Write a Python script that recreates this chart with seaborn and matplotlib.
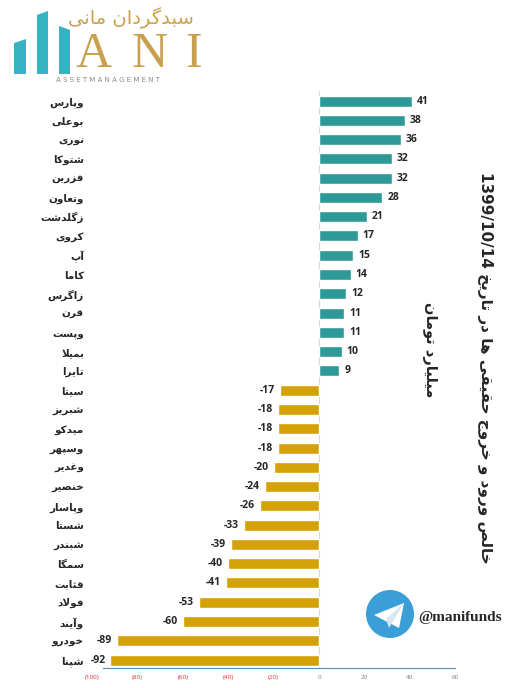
import numpy as np
import pandas as pd
import matplotlib
matplotlib.use("Agg")
import matplotlib.pyplot as plt
import seaborn as sns
from matplotlib.patches import Polygon, Circle

# data
names = ["وپارس", "بوعلی", "نوری", "شتوکا", "فزرین", "وتعاون", "زگلدشت", "کروی", "آپ", "کاما",
         "زاگرس", "قرن", "وپست", "بمیلا", "تایرا",
         "سیتا", "شبریز", "میدکو", "وسپهر", "وغدیر", "خنصیر", "وپاسار", "شستا", "شبندر", "سمگا",
         "قثابت", "فولاد", "وآیند", "خودرو", "شپنا"]
values = [41, 38, 36, 32, 32, 28, 21, 17, 15, 14, 12, 11, 11, 10, 9,
          -17, -18, -18, -18, -20, -24, -26, -33, -39, -40, -41, -53, -60, -89, -92]
xticks = [-100, -80, -60, -40, -20, 0, 20, 40, 60]
title = "خالص ورود و خروج حقیقی ها در تاریخ 1399/10/14"
subtitle = "میلیارد تومان"

TEAL = "#2E9A97"
GOLD = "#D4A106"

# --- simple arabic/persian shaping (no reshaper lib available) ---
FORMS = {
    "ا": (0xFE8D, 0xFE8E, None, None), "آ": (0xFE81, 0xFE82, None, None),
    "ب": (0xFE8F, 0xFE90, 0xFE91, 0xFE92), "پ": (0xFB56, 0xFB57, 0xFB58, 0xFB59),
    "ت": (0xFE95, 0xFE96, 0xFE97, 0xFE98), "ث": (0xFE99, 0xFE9A, 0xFE9B, 0xFE9C),
    "ج": (0xFE9D, 0xFE9E, 0xFE9F, 0xFEA0), "ح": (0xFEA1, 0xFEA2, 0xFEA3, 0xFEA4),
    "خ": (0xFEA5, 0xFEA6, 0xFEA7, 0xFEA8), "د": (0xFEA9, 0xFEAA, None, None),
    "ر": (0xFEAD, 0xFEAE, None, None), "ز": (0xFEAF, 0xFEB0, None, None),
    "س": (0xFEB1, 0xFEB2, 0xFEB3, 0xFEB4), "ش": (0xFEB5, 0xFEB6, 0xFEB7, 0xFEB8),
    "ص": (0xFEB9, 0xFEBA, 0xFEBB, 0xFEBC), "ع": (0xFEC9, 0xFECA, 0xFECB, 0xFECC),
    "غ": (0xFECD, 0xFECE, 0xFECF, 0xFED0), "ف": (0xFED1, 0xFED2, 0xFED3, 0xFED4),
    "ق": (0xFED5, 0xFED6, 0xFED7, 0xFED8), "ک": (0xFB8E, 0xFB8F, 0xFB90, 0xFB91),
    "گ": (0xFB92, 0xFB93, 0xFB94, 0xFB95), "ل": (0xFEDD, 0xFEDE, 0xFEDF, 0xFEE0),
    "م": (0xFEE1, 0xFEE2, 0xFEE3, 0xFEE4), "ن": (0xFEE5, 0xFEE6, 0xFEE7, 0xFEE8),
    "ه": (0xFEE9, 0xFEEA, 0xFEEB, 0xFEEC), "و": (0xFEED, 0xFEEE, None, None),
    "ی": (0xFBFC, 0xFBFD, 0xFBFE, 0xFBFF),
}


def shape(s):
    out = []
    i = 0
    while i < len(s):
        c = s[i]
        if c not in FORMS:
            out.append(c)
            i += 1
            continue
        prev = s[i - 1] if i > 0 else ""
        join_prev = prev in FORMS and FORMS[prev][2] is not None
        if c == "ل" and i + 1 < len(s) and s[i + 1] in "اآ":
            lig = (0xFEFB, 0xFEFC) if s[i + 1] == "ا" else (0xFEF5, 0xFEF6)
            out.append(chr(lig[1] if join_prev else lig[0]))
            i += 2
            continue
        nxt = s[i + 1] if i + 1 < len(s) else ""
        join_next = FORMS[c][2] is not None and nxt in FORMS
        iso, fin, ini, med = FORMS[c]
        if join_prev and join_next:
            code = med
        elif join_prev:
            code = fin
        elif join_next:
            code = ini
        else:
            code = iso
        out.append(chr(code))
        i += 1
    vis = "".join(out)[::-1]
    # keep digit runs left-to-right
    res, run = "", ""
    for ch in vis:
        if ch.isdigit() or ch == "/":
            run += ch
        else:
            res += run[::-1] + ch
            run = ""
    return res + run[::-1]


df = pd.DataFrame({"name": [shape(n) for n in names], "value": values})
df["sign"] = np.where(df["value"] > 0, "pos", "neg")

sns.set_theme(style="white")
plt.rcParams["font.family"] = ["DejaVu Sans"]

fig = plt.figure(figsize=(5.2, 6.88), dpi=100)
ax = fig.add_axes([92.3 / 520, 20 / 688, 362.7 / 520, 577 / 688])

sns.barplot(data=df, y="name", x="value", hue="sign", palette={"pos": TEAL, "neg": GOLD},
            orient="h", width=0.57, dodge=False, legend=False, saturation=1, ax=ax)

ax.set_xlim(-100, 60)
ax.set_ylim(29.41, -0.52)
ax.axvline(0, color="#D9D9D9", lw=0.8, zorder=0)

for i, v in enumerate(values):
    if v > 0:
        ax.text(v + 2.2, i, str(v), ha="left", va="center", fontsize=7.5, fontweight="bold",
                family=["Open Sans", "DejaVu Sans"])
    else:
        ax.text(v - 2.2, i, str(v), ha="right", va="center", fontsize=7.5, fontweight="bold",
                family=["Open Sans", "DejaVu Sans"])

ax.set_xlabel("")
ax.set_ylabel("")
ax.set_xticks(xticks)
ax.set_xticklabels([f"({-t})" if t < 0 else str(t) for t in xticks], fontsize=4.5,
                   family=["Open Sans", "DejaVu Sans"])
for lab, t in zip(ax.get_xticklabels(), xticks):
    lab.set_color("#E0302A" if t < 0 else "#7F7F7F")
ax.tick_params(axis="x", length=0, pad=5)
ax.tick_params(axis="y", length=0, pad=6)
for lab in ax.get_yticklabels():
    lab.set_fontsize(7.5)
    lab.set_fontweight("bold")
for sp in ["top", "right", "left"]:
    ax.spines[sp].set_visible(False)
ax.spines["bottom"].set_color("#5B8DB8")
ax.spines["bottom"].set_linewidth(0.8)
ax.spines["bottom"].set_bounds(-95.5, 60)

# titles (rotated)
fig.text(485 / 520, 1 - 368 / 688, shape(title), rotation=-90, ha="center", va="center",
         fontsize=11, fontweight="bold")
fig.text(430 / 520, 1 - 350 / 688, shape(subtitle), rotation=-90, ha="center", va="center",
         fontsize=10.5, fontweight="bold")

# decoration overlay in pixel coords: logo + telegram
ov = fig.add_axes([0, 0, 1, 1], facecolor="none")
ov.set_xlim(0, 520)
ov.set_ylim(688, 0)
ov.axis("off")
LOGO = "#36B2C2"
for pts in [[(14, 74), (26, 74), (26, 39), (14, 43)],
            [(37, 74), (48, 74), (48, 11), (37, 15)],
            [(59, 74), (70, 74), (70, 30), (59, 26)]]:
    ov.add_patch(Polygon(pts, closed=True, color=LOGO, lw=0))
for ch, x in zip("ANI", [94, 150, 194]):
    ov.text(x, 67, ch, ha="center", va="baseline", fontsize=36, color="#C9A14E",
            family="Liberation Serif")
ov.text(131, 18, shape("سبدگردان مانی"), ha="center", va="center", fontsize=14,
        color="#C9A14E")
ov.text(108, 80.5, " ".join("ASSETMANAGEMENT"), ha="center", va="center", fontsize=5,
        color="#8A8A8A")

ov.add_patch(Circle((390, 614), 24, color="#3A9FD6", lw=0))
ov.add_patch(Polygon([(374, 615), (404, 603), (399, 628)], closed=True, color="white", lw=0))
ov.add_patch(Polygon([(386, 619), (404, 603), (389, 628)], closed=True, color="#D8E8F2", lw=0))
ov.text(460, 617, "@manifunds", ha="center", va="center", fontsize=11, fontweight="bold",
        family="Liberation Serif")

fig.savefig("out.png", dpi=100)
